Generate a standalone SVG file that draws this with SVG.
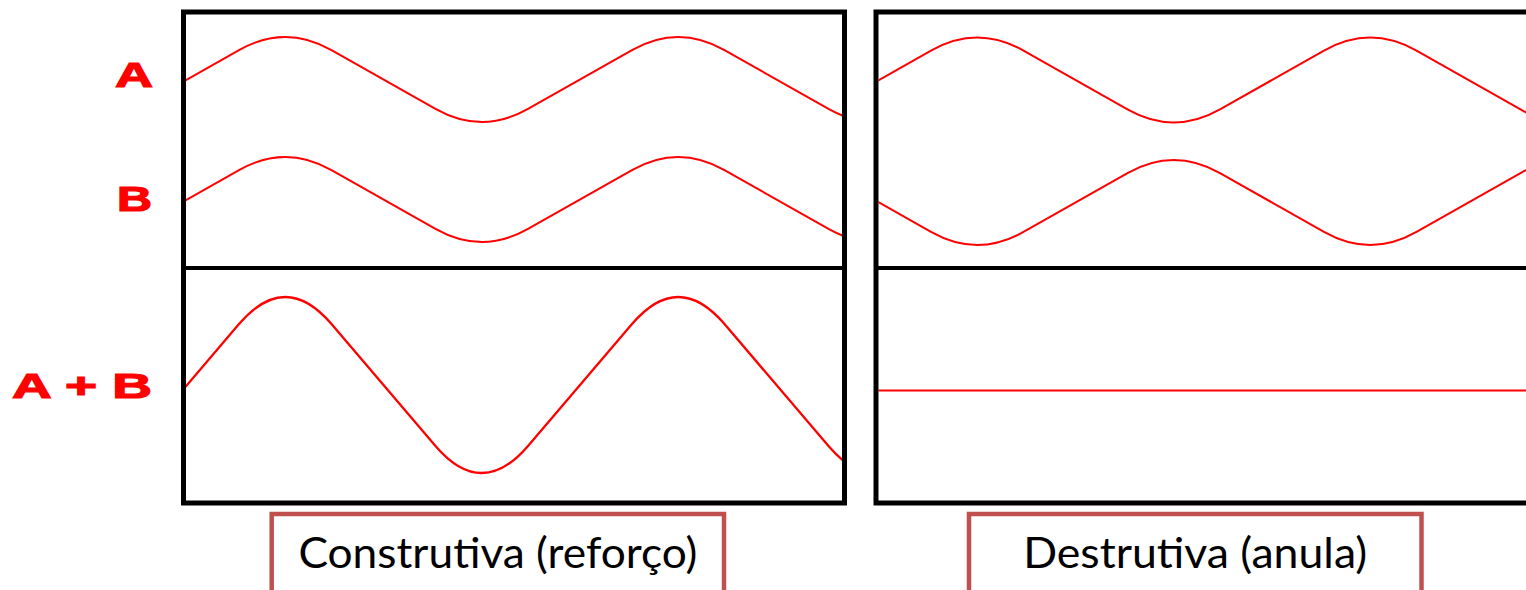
<svg xmlns="http://www.w3.org/2000/svg" width="1526" height="590" viewBox="0 0 1526 590">
<style>
.frame{fill:none;stroke:#000;stroke-width:5}
.div{stroke:#000;stroke-width:4}
.wave{fill:none;stroke:#ff0000;stroke-width:2}
.wave2{fill:none;stroke:#ff0000;stroke-width:2.3}
.lbl{font-family:"Liberation Sans",Arial,sans-serif;font-weight:bold;font-size:35px;fill:#ff0000;stroke:#ff0000;stroke-width:1.2}
.cap{fill:#fff;stroke:#c0504d;stroke-width:4.5}
.capt{font-family:Lato,"Liberation Sans",sans-serif;font-size:42px;fill:#000;text-anchor:middle}
</style>
<defs>
<clipPath id="clipL"><rect x="186" y="14" width="656" height="487"/></clipPath>
<clipPath id="clipR"><rect x="878.5" y="14" width="660" height="487"/></clipPath>
</defs>
<rect width="1526" height="590" fill="#fff"/>

<g id="labels">
<text class="lbl" x="115" y="87" textLength="38" lengthAdjust="spacingAndGlyphs">A</text>
<text class="lbl" x="117" y="211" textLength="35" lengthAdjust="spacingAndGlyphs">B</text>
<text class="lbl" x="12" y="398" textLength="140" lengthAdjust="spacingAndGlyphs">A + B</text>
</g>

<g id="panel-construtiva">
<g clip-path="url(#clipL)">
<path class="wave" d="M135 108.918 l104 -58.835 q23.125 -13.082 46.25 -13.082 q23.125 0 46.25 13.082 l104 58.835 q23.125 13.082 46.25 13.082 q23.125 0 46.25 -13.082 l104 -58.835 q23.125 -13.082 46.25 -13.082 q23.125 0 46.25 13.082 l104 58.835 q23.125 13.082 46.25 13.082 q23.125 0 46.25 -13.082"/>
<path class="wave" d="M135 228.918 l104 -58.835 q23.125 -13.082 46.25 -13.082 q23.125 0 46.25 13.082 l104 58.835 q23.125 13.082 46.25 13.082 q23.125 0 46.25 -13.082 l104 -58.835 q23.125 -13.082 46.25 -13.082 q23.125 0 46.25 13.082 l104 58.835 q23.125 13.082 46.25 13.082 q23.125 0 46.25 -13.082"/>
<path class="wave2" d="M135 445.912 l104 -121.824 q23.125 -27.088 46.25 -27.088 q23.125 0 46.25 27.088 l104 121.824 q23.125 27.088 46.25 27.088 q23.125 0 46.25 -27.088 l104 -121.824 q23.125 -27.088 46.25 -27.088 q23.125 0 46.25 27.088 l104 121.824 q23.125 27.088 46.25 27.088 q23.125 0 46.25 -27.088"/>
</g>
<rect class="frame" x="183.5" y="12" width="661" height="491"/>
<line class="div" x1="183.5" y1="268" x2="844.5" y2="268"/>
</g>

<g id="panel-destrutiva">
<g clip-path="url(#clipR)">
<path class="wave" d="M827 109.418 l104 -58.835 q23.125 -13.082 46.25 -13.082 q23.125 0 46.25 13.082 l104 58.835 q23.125 13.082 46.25 13.082 q23.125 0 46.25 -13.082 l104 -58.835 q23.125 -13.082 46.25 -13.082 q23.125 0 46.25 13.082 l104 58.835 q23.125 13.082 46.25 13.082 q23.125 0 46.25 -13.082"/>
<path class="wave" d="M827 173.082 l104 58.835 q23.125 13.082 46.25 13.082 q23.125 0 46.25 -13.082 l104 -58.835 q23.125 -13.082 46.25 -13.082 q23.125 0 46.25 13.082 l104 58.835 q23.125 13.082 46.25 13.082 q23.125 0 46.25 -13.082 l104 -58.835 q23.125 -13.082 46.25 -13.082 q23.125 0 46.25 13.082"/>
<line class="wave" x1="876" y1="390.5" x2="1526" y2="390.5"/>
</g>
<rect class="frame" x="876" y="12" width="700" height="491"/>
<line class="div" x1="876" y1="268" x2="1526" y2="268"/>
</g>

<g id="caption-construtiva">
<rect class="cap" x="271.7" y="514" width="452.3" height="100"/>
<text class="capt" x="497.9" y="567.5" textLength="399" lengthAdjust="spacingAndGlyphs">Construtiva (reforço)</text>
</g>
<g id="caption-destrutiva">
<rect class="cap" x="969" y="514" width="452.5" height="100"/>
<text class="capt" x="1195.2" y="567.5" textLength="344" lengthAdjust="spacingAndGlyphs">Destrutiva (anula)</text>
</g>
</svg>
